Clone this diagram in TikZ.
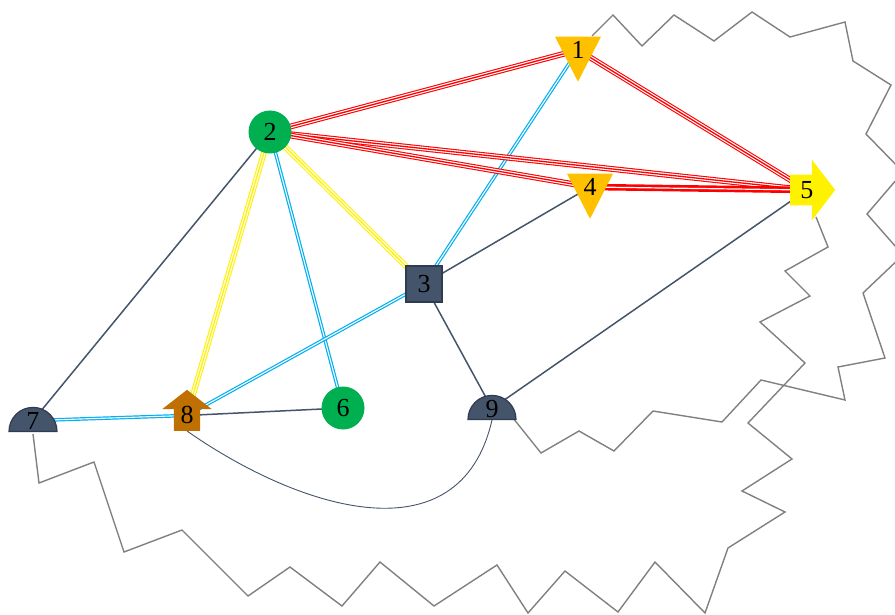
\documentclass[tikz,border=0pt]{standalone}
\usepackage{fontspec}
\setmainfont{Liberation Serif}
\usetikzlibrary{shapes.geometric,shapes.arrows}
\pgfdeclarelayer{bg}
\pgfsetlayers{bg,main}
\definecolor{gold}{HTML}{FFC000}
\definecolor{leaf}{HTML}{00B050}
\definecolor{slate}{HTML}{44546A}
\definecolor{slateedge}{HTML}{2F3B52}
\definecolor{sky}{HTML}{00B0F0}
\definecolor{rust}{HTML}{C07000}

\begin{document}
\begin{tikzpicture}[x=1pt, y=-1pt, font=\fontsize{26}{26}\selectfont,
	vtri/.style={isosceles triangle, isosceles triangle stretches, shape border rotate=270,
		minimum width=46pt, minimum height=45pt, inner sep=0pt, fill=gold},
	vcirc/.style={circle, fill=leaf, minimum size=43pt, inner sep=0pt},
	vhalf/.style={semicircle, fill=slate, draw=slateedge, line width=1.2pt,
		minimum width=48pt, inner sep=0pt, anchor=chord center},
	varrow/.style={single arrow, anchor=tail},
	triple/.style={line width=5.8pt, draw=#1, postaction={draw=white, line width=3.6pt},
		postaction={draw=#1, line width=1.3pt}},
	twin/.style={draw=sky, line width=1.2pt, double=white, double distance=1.1pt},
	plain/.style={draw=slate, line width=1.5pt},
	zig/.style={draw=gray, line width=1.4pt}]
	\clip (0,0) rectangle (895,615);
	% vertices
	\node[vtri] (n1) at (578,50) {1};
	\node[vcirc] (n2) at (270,132) {2};
	\node[rectangle, fill=slate, draw=slateedge, line width=2pt, minimum size=36pt, inner sep=0pt] (n3) at (424,284) {3};
	\node[vtri] (n4) at (590,187) {4};
	\node[varrow, fill=yellow, inner xsep=0pt, inner ysep=6.5pt, minimum height=45pt,
		single arrow head extend=15pt, single arrow tip angle=105] (n5) at (790,190) {5};
	\node[vcirc] (n6) at (343,408) {6};
	\node[vhalf] (n7) at (33,432) {7};
	\node[varrow, fill=rust, shape border rotate=90, inner xsep=6.5pt, inner ysep=0pt,
		minimum height=41pt, single arrow head extend=11.5pt, single arrow tip angle=104] (n8) at (187,431) {8};
	\node[vhalf] (n9) at (492,420) {9};
	\begin{pgfonlayer}{bg}
		% outlines
		\draw[zig] (592,36) -- (613,15) -- (642,46) -- (674,15) -- (714,41) -- (752,12)
			-- (790,37) -- (845,22) -- (853,61) -- (891,85) -- (866,134) -- (903,172)
			-- (867,214) -- (903,255) -- (863,293) -- (885,358) -- (838,367) -- (845,400)
			-- (761,380) -- (722,422) -- (653,411) -- (614,451) -- (579,431) -- (541,453)
			-- (513,418);
		\draw[zig] (33,434) -- (39,483) -- (94,462) -- (124,552) -- (182,530) -- (248,596)
			-- (290,567) -- (342,606) -- (380,562) -- (434,606) -- (497,565) -- (528,613)
			-- (565,571) -- (618,612) -- (655,562) -- (705,613) -- (728,548) -- (785,512)
			-- (742,491) -- (792,459) -- (748,423) -- (805,363) -- (760,322) -- (810,296)
			-- (785,271) -- (828,247) -- (816,217);
		% links
		\draw[plain] (n2.center) -- (n7.center);
		\draw[plain] (n3.center) -- (n4.center);
		\draw[plain] (n3.center) -- (n9.center);
		\draw[plain] (n5.center) -- (n9.center);
		\draw[plain] (n8.center) -- (n6.center);
		\draw[draw=slate, line width=0.9pt] (n8.tail) .. controls (300,510) and (460,560) .. (n9.chord center);
		\draw[twin] (n1.center) -- (n3.center);
		\draw[twin] (n2.center) -- (n6.center);
		\draw[twin] (n3.center) -- (n8.center);
		\draw[twin] (n7.center) -- (n8.center);
		\draw[triple=yellow] (n2.center) -- (n8.center);
		\draw[triple=yellow] (n2.center) -- (n3.center);
		\draw[triple=red] (n2.center) -- (n1.center);
		\draw[triple=red] (n2.center) -- (n5.center);
		\draw[triple=red] (n2.center) -- (n4.center);
		\draw[triple=red] (n1.center) -- (n5.center);
		\draw[draw=red, line width=6.5pt, postaction={draw=white, line width=1.2pt}] (n4.center) -- (n5.center);
	\end{pgfonlayer}
\end{tikzpicture}
\end{document}
